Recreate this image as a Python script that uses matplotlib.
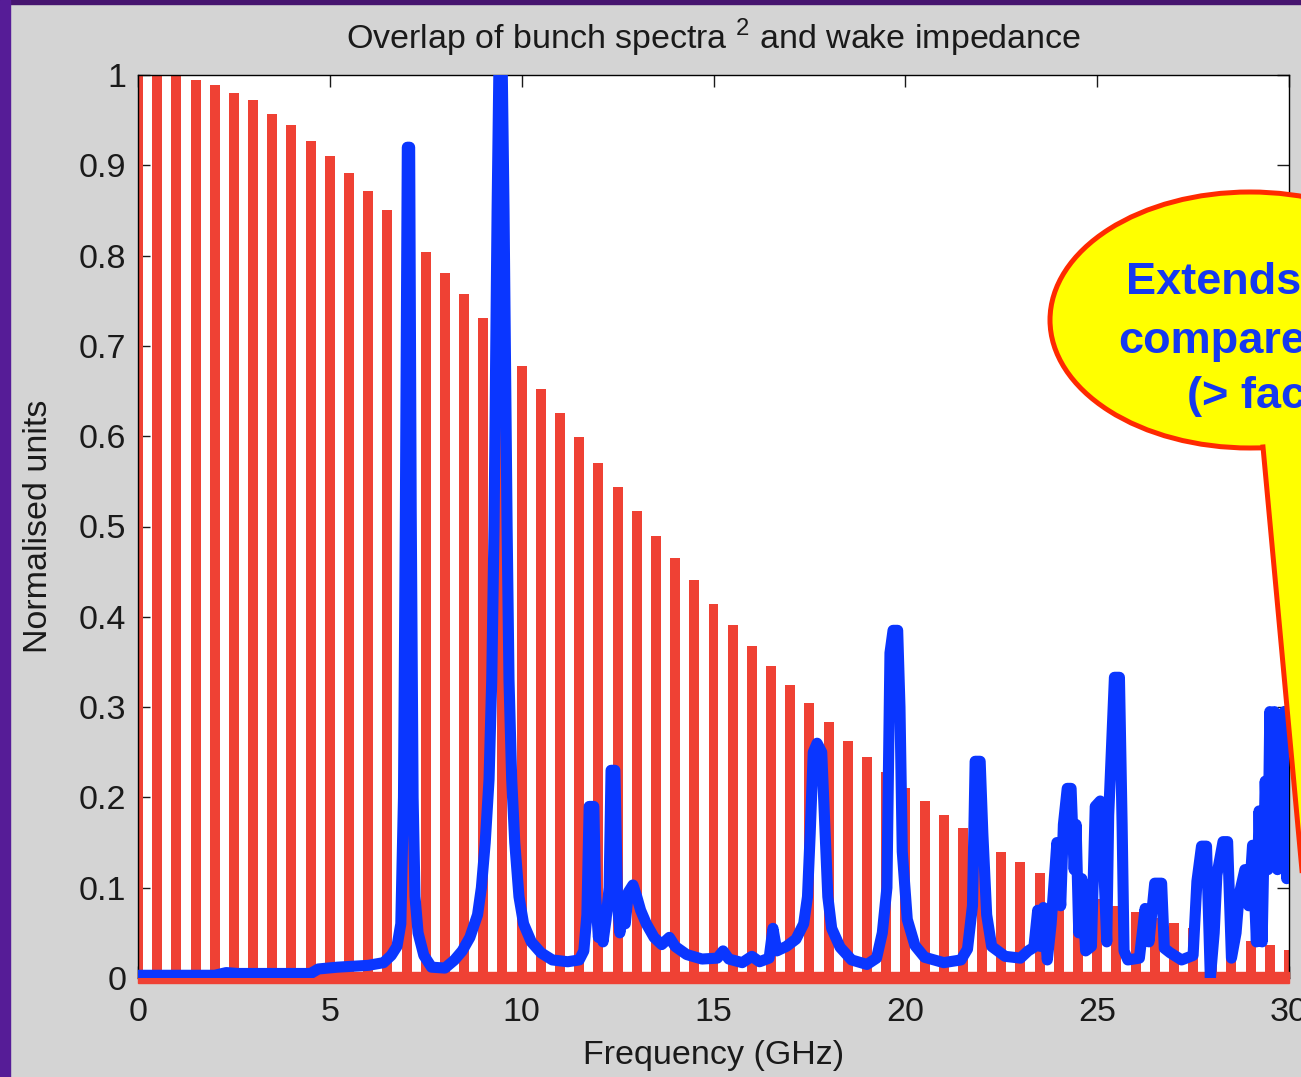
import matplotlib
matplotlib.use("Agg")
import matplotlib.pyplot as plt
from matplotlib.patches import Ellipse, Polygon, Rectangle
import numpy as np

plt.rcParams['font.family'] = ['Liberation Sans', 'DejaVu Sans']
plt.rcParams['mathtext.fontset'] = 'custom'
plt.rcParams['mathtext.rm'] = 'Liberation Sans'

# bunch spectrum squared, one bar every 0.5 GHz
bar_freq = [i * 0.5 for i in range(61)]
bar_height = [1.0, 1.0, 1.0, 0.994, 0.989, 0.980, 0.972, 0.957, 0.945, 0.927,
              0.910, 0.892, 0.872, 0.851, 0.826, 0.804, 0.781, 0.758, 0.731, 0.705,
              0.678, 0.652, 0.626, 0.599, 0.570, 0.544, 0.517, 0.490, 0.465, 0.441,
              0.414, 0.391, 0.368, 0.345, 0.324, 0.304, 0.283, 0.263, 0.245, 0.228,
              0.210, 0.196, 0.180, 0.166, 0.153, 0.140, 0.128, 0.116, 0.107, 0.097,
              0.088, 0.080, 0.073, 0.066, 0.061, 0.055, 0.050, 0.045, 0.041, 0.037,
              0.031]

# wake impedance (normalised)
wake_freq = [0.0, 2.0, 2.3, 2.6, 4.5, 4.7, 5.2, 6.0, 6.4, 6.6, 6.75, 6.85, 6.92, 6.97,
             7.02, 7.08, 7.12, 7.17, 7.22, 7.3, 7.45, 7.65, 8.0, 8.25, 8.45, 8.65, 8.85,
             8.95, 9.05, 9.15, 9.22, 9.28, 9.36, 9.42, 9.48, 9.54, 9.62, 9.67, 9.74,
             9.82, 9.93, 10.05, 10.25, 10.5, 10.8, 11.2, 11.5, 11.62, 11.7, 11.76,
             11.88, 11.93, 12.0, 12.06, 12.12, 12.2, 12.28, 12.33, 12.43, 12.5, 12.56,
             12.62, 12.7, 12.78, 12.9, 13.0, 13.1, 13.25, 13.45, 13.65, 13.85, 14.0,
             14.3, 14.7, 15.1, 15.25, 15.4, 15.75, 16.0, 16.2, 16.45, 16.55, 16.65,
             16.9, 17.15, 17.35, 17.45, 17.52, 17.6, 17.7, 17.82, 17.9, 17.98, 18.08,
             18.3, 18.6, 19.0, 19.25, 19.4, 19.52, 19.6, 19.68, 19.8, 19.86, 19.92,
             20.05, 20.25, 20.5, 21.0, 21.45, 21.62, 21.75, 21.82, 21.95, 22.02,
             22.12, 22.25, 22.6, 23.0, 23.2, 23.35, 23.45, 23.52, 23.6, 23.7, 23.8,
             23.95, 24.05, 24.12, 24.22, 24.32, 24.4, 24.45, 24.52, 24.6, 24.7,
             24.85, 24.95, 25.08, 25.17, 25.25, 25.3, 25.45, 25.58, 25.65, 25.7,
             25.8, 26.1, 26.25, 26.35, 26.5, 26.68, 26.75, 26.9, 27.2, 27.5, 27.6,
             27.72, 27.85, 27.95, 28.05, 28.12, 28.28, 28.4, 28.5, 28.62, 28.7,
             28.85, 28.95, 29.05, 29.15, 29.22, 29.3, 29.38, 29.45, 29.5, 29.57,
             29.62, 29.7, 29.76, 29.82, 29.88, 29.94, 30.0]
wake_value = [0.003, 0.003, 0.006, 0.005, 0.005, 0.010, 0.012, 0.014, 0.017, 0.025,
              0.035, 0.060, 0.20, 0.52, 0.92, 0.92, 0.52, 0.20, 0.09, 0.05, 0.025,
              0.012, 0.011, 0.020, 0.030, 0.045, 0.070, 0.10, 0.15, 0.22, 0.33, 0.50,
              0.85, 1.05, 1.05, 0.85, 0.50, 0.33, 0.22, 0.15, 0.09, 0.06, 0.04, 0.028,
              0.020, 0.018, 0.020, 0.030, 0.070, 0.19, 0.19, 0.09, 0.045, 0.07, 0.04,
              0.065, 0.10, 0.23, 0.23, 0.08, 0.05, 0.08, 0.06, 0.095, 0.103, 0.09,
              0.075, 0.06, 0.045, 0.037, 0.045, 0.035, 0.026, 0.021, 0.022, 0.030,
              0.021, 0.017, 0.024, 0.018, 0.022, 0.055, 0.030, 0.035, 0.043, 0.060,
              0.09, 0.16, 0.25, 0.26, 0.25, 0.17, 0.09, 0.055, 0.034, 0.020, 0.015,
              0.022, 0.050, 0.10, 0.36, 0.385, 0.385, 0.30, 0.14, 0.065, 0.036, 0.023,
              0.017, 0.020, 0.032, 0.08, 0.24, 0.24, 0.16, 0.07, 0.035, 0.024, 0.022,
              0.030, 0.034, 0.075, 0.035, 0.078, 0.020, 0.06, 0.15, 0.08, 0.17, 0.21,
              0.21, 0.12, 0.17, 0.05, 0.11, 0.03, 0.035, 0.19, 0.196, 0.125, 0.04,
              0.18, 0.333, 0.333, 0.17, 0.03, 0.020, 0.022, 0.077, 0.04, 0.105, 0.105,
              0.033, 0.028, 0.020, 0.025, 0.107, 0.146, 0.146, 0.0, 0.05, 0.114, 0.151,
              0.151, 0.022, 0.05, 0.092, 0.12, 0.08, 0.147, 0.04, 0.185, 0.04, 0.218,
              0.12, 0.295, 0.15, 0.295, 0.12, 0.274, 0.16, 0.295, 0.11, 0.295]

x_ticks = [0, 5, 10, 15, 20, 25, 30]
y_ticks = [0, 0.1, 0.2, 0.3, 0.4, 0.5, 0.6, 0.7, 0.8, 0.9, 1]
y_ticklabels = ['0', '0.1', '0.2', '0.3', '0.4', '0.5', '0.6', '0.7', '0.8', '0.9', '1']

red = '#EF4134'
blue = '#0A36FF'
W, H = 1301, 1077

fig = plt.figure(figsize=(W / 100, H / 100), dpi=100)
fig.patch.set_facecolor('#D4D4D4')

def px(x, y):
    # pixel position (from top-left) -> figure fraction
    return (x / W, 1 - y / H)

# purple slide border on the top and left
fig.patches.append(Rectangle((0, 1 - 4 / H), 1, 4 / H, transform=fig.transFigure,
                             color='#46146F', zorder=0))
fig.patches.append(Rectangle((0, 0), 10 / W, 1, transform=fig.transFigure,
                             color='#561C97', zorder=0))

ax = fig.add_axes([138 / W, (H - 978) / H, (1289 - 138) / W, (978 - 75) / H])
ax.set_facecolor('white')

ax.bar(bar_freq, bar_height, width=0.26, color=red, zorder=2)
ax.axhspan(-0.0055, 0.0066, color=red, zorder=2.6, clip_on=False)
ax.plot(wake_freq, wake_value, color=blue, lw=8, zorder=3)

ax.set_xlim(0, 30)
ax.set_ylim(0, 1)
ax.set_xticks(x_ticks)
ax.set_yticks(y_ticks)
ax.set_yticklabels(y_ticklabels)
ax.tick_params(direction='in', length=8.6, width=1, top=True, right=True,
               labelsize=24.5, colors='#1a1a1a')
ax.tick_params(axis='x', pad=14)
ax.tick_params(axis='y', pad=8.5)
for s in ax.spines.values():
    s.set_linewidth(1)

ax.set_title(r'Overlap of bunch spectra $^{2}$ and wake impedance', fontsize=24.5,
             pad=19, color='#1a1a1a')
ax.set_xlabel('Frequency (GHz)', fontsize=24.5, labelpad=8, color='#1a1a1a')
ax.set_ylabel('Normalised units', fontsize=24.5, labelpad=18, color='#1a1a1a')

# callout balloon, cut by the right edge of the slide
edge = '#FF2A00'
yellow = '#FFFF00'
cx, cy = px(1250, 320)
fig.patches.append(Ellipse((cx, cy), 400 / W, 256 / H, transform=fig.transFigure,
                           facecolor=yellow, edgecolor=edge, lw=3.6, zorder=5))
tail = [px(1266, 430), px(1263, 448), px(1320, 1066), px(1350, 444), px(1350, 430)]
fig.patches.append(Polygon(tail, closed=True, transform=fig.transFigure,
                           facecolor=yellow, edgecolor='none', zorder=6))
for a, b in [((1263, 447), (1320, 1066)), ((1320, 1066), (1350, 444))]:
    fig.add_artist(plt.Line2D([px(*a)[0], px(*b)[0]], [px(*a)[1], px(*b)[1]],
                              transform=fig.transFigure, color=edge, lw=3.6, zorder=7))

txt = dict(fontsize=32.5, fontweight='bold', color='#1538F0', ha='left',
           va='baseline', transform=fig.transFigure, zorder=8)
fig.text(*px(1126, 294), 'Extends', **txt)
fig.text(*px(1118, 353), 'compared', **txt)
fig.text(*px(1187, 408), '(> factor', **txt)

fig.savefig('out.png', dpi=100, facecolor=fig.get_facecolor())
